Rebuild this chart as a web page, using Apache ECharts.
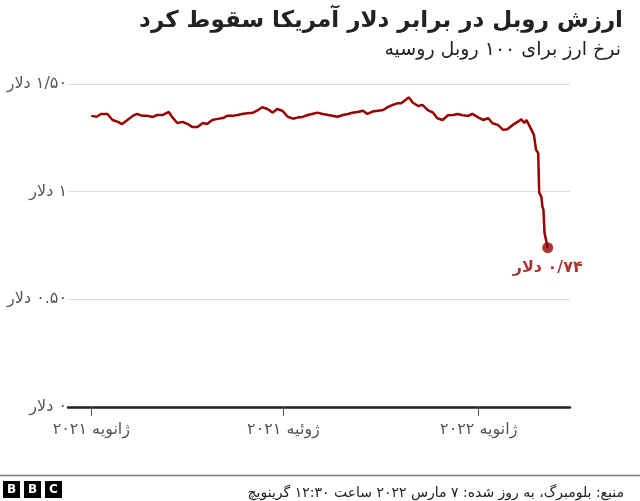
<!DOCTYPE html>
<html>
<head>
<meta charset="utf-8">
<script src="https://cdn.jsdelivr.net/npm/echarts@6/dist/echarts.min.js"></script>
<style>
  html, body { margin: 0; padding: 0; background: #fff; }
  #chart { width: 640px; height: 501px; direction: rtl; }
</style>
</head>
<body>
<div id="chart"></div>
<script>
// ---- data (value of 100 Russian roubles in US dollars) ----
var dates = [
  '2021-01-01','2021-01-06','2021-01-10','2021-01-16','2021-01-21','2021-01-26','2021-01-30',
  '2021-02-04','2021-02-09','2021-02-13','2021-02-18','2021-02-23','2021-02-28',
  '2021-03-04','2021-03-09','2021-03-15','2021-03-18','2021-03-23','2021-03-28',
  '2021-04-02','2021-04-06','2021-04-11','2021-04-16','2021-04-20','2021-04-25','2021-04-30',
  '2021-05-05','2021-05-09','2021-05-14','2021-05-19','2021-05-23','2021-05-28',
  '2021-06-02','2021-06-07','2021-06-11','2021-06-16','2021-06-21','2021-06-25','2021-06-30',
  '2021-07-05','2021-07-10','2021-07-14','2021-07-19','2021-07-24','2021-07-28',
  '2021-08-02','2021-08-07','2021-08-12','2021-08-16','2021-08-21','2021-08-26','2021-08-31',
  '2021-09-04','2021-09-09','2021-09-14','2021-09-18','2021-09-23','2021-09-28',
  '2021-10-03','2021-10-07','2021-10-12','2021-10-17','2021-10-20','2021-10-24','2021-10-27','2021-10-31',
  '2021-11-05','2021-11-09','2021-11-14','2021-11-19','2021-11-23','2021-11-28',
  '2021-12-03','2021-12-08','2021-12-12','2021-12-17','2021-12-22','2021-12-26','2021-12-31',
  '2022-01-05','2022-01-10','2022-01-14','2022-01-19','2022-01-24','2022-01-28',
  '2022-02-02','2022-02-07','2022-02-10','2022-02-13','2022-02-15','2022-02-19','2022-02-22',
  '2022-02-24','2022-02-26','2022-02-27','2022-03-01','2022-03-02','2022-03-03','2022-03-04','2022-03-07'
];
var values = [
  1.352,1.348,1.361,1.361,1.333,1.324,1.314,
  1.333,1.352,1.361,1.352,1.352,1.347,
  1.356,1.356,1.370,1.347,1.319,1.324,
  1.314,1.300,1.300,1.319,1.314,1.333,1.338,
  1.342,1.352,1.352,1.356,1.361,1.364,
  1.366,1.379,1.392,1.384,1.367,1.384,1.376,
  1.348,1.339,1.344,1.347,1.356,1.361,
  1.367,1.361,1.356,1.353,1.348,1.356,1.361,
  1.367,1.370,1.376,1.361,1.372,1.376,
  1.379,1.392,1.403,1.411,1.411,1.426,1.438,1.413,
  1.398,1.403,1.379,1.367,1.341,1.333,
  1.355,1.356,1.361,1.355,1.352,1.361,1.346,
  1.333,1.341,1.318,1.310,1.287,1.290,
  1.310,1.325,1.336,1.319,1.333,1.294,1.263,
  1.194,1.180,0.994,0.977,0.930,0.915,0.808,0.740
];
var lastLabel = '۰/۷۴ دلار';

// ---- axes ----
var xMin = '2020-12-10';
var xMax = '2022-03-28';
var xTickDates = ['2021-01-01', '2021-07-01', '2022-01-01'];
var xTickLabels = ['ژانویه ۲۰۲۱', 'ژوئیه ۲۰۲۱', 'ژانویه ۲۰۲۲'];
var yTickValues = [0, 0.5, 1, 1.5];
var yTickLabels = ['۰ دلار', '۰.۵۰ دلار', '۱ دلار', '۱/۵۰ دلار'];

// ---- text ----
var titleText = 'ارزش روبل در برابر دلار آمریکا سقوط کرد';
var subtitleText = 'نرخ ارز برای ۱۰۰ روبل روسیه';
var sourceText = 'منبع: بلومبرگ، به روز شده: ۷ مارس ۲۰۲۲ ساعت ۱۲:۳۰ گرینویچ';

var FONT = '"DejaVu Sans", sans-serif';
var RED = '#990000';

var parse = function (s) { return echarts.number.parseDate(s).getTime(); };
var xTickTimes = xTickDates.map(parse);
var lineData = dates.map(function (d, i) { return [parse(d), values[i]]; });
var lastPoint = lineData[lineData.length - 1];

var chart = echarts.init(document.getElementById('chart'), null, { renderer: 'canvas' });

function bbcBox(x, letter) {
  return {
    type: 'group', left: x, top: 481,
    children: [
      { type: 'rect', shape: { x: 0, y: 0, width: 17, height: 17 }, style: { fill: '#000' } },
      { type: 'text', style: { x: 8.5, y: 9, text: letter, fill: '#fff', font: 'bold 12px ' + FONT, align: 'center', verticalAlign: 'middle' } }
    ]
  };
}

chart.setOption({
  animation: false,
  backgroundColor: '#fff',
  title: [
    { text: titleText, right: 12, top: 5, textStyle: { fontFamily: FONT, fontSize: 23, fontWeight: 'bold', color: '#222' } },
    { text: subtitleText, right: 14, top: 36, textStyle: { fontFamily: FONT, fontSize: 19, fontWeight: 'normal', color: '#222' } },
    { text: sourceText, right: 11, top: 481, textStyle: { fontFamily: FONT, fontSize: 14, fontWeight: 'normal', color: '#222' } }
  ],
  grid: { left: 68, right: 70, top: 84, bottom: 94, containLabel: false },
  xAxis: {
    type: 'value',
    min: parse(xMin),
    max: parse(xMax),
    axisLine: { show: true, onZero: false, lineStyle: { color: '#222', width: 2.5 } },
    axisTick: { show: true, customValues: xTickTimes, length: 9, lineStyle: { color: '#555', width: 1 } },
    axisLabel: {
      customValues: xTickTimes,
      margin: 15,
      fontFamily: FONT, fontSize: 16, color: '#555',
      formatter: function (v) {
        var i = xTickTimes.indexOf(v);
        return i >= 0 ? xTickLabels[i] : '';
      }
    },
    splitLine: { show: false }
  },
  yAxis: {
    type: 'value',
    min: 0, max: 1.5, interval: 0.5,
    axisLine: { show: false },
    axisTick: { show: false },
    axisLabel: {
      margin: 1,
      fontFamily: FONT, fontSize: 16, color: '#555',
      formatter: function (v) {
        var i = yTickValues.indexOf(Math.round(v * 100) / 100);
        return i >= 0 ? yTickLabels[i] : '';
      }
    },
    splitLine: { show: true, lineStyle: { color: '#dcdcdc', width: 1 } }
  },
  series: [
    {
      type: 'line',
      data: lineData,
      showSymbol: false,
      symbol: 'none',
      lineStyle: { color: RED, width: 2.5 },
      z: 3
    },
    {
      type: 'scatter',
      data: [lastPoint],
      symbolSize: 11,
      itemStyle: { color: RED },
      label: {
        show: true, position: 'bottom', distance: 7,
        formatter: function () { return lastLabel; },
        fontFamily: FONT, fontSize: 16, fontWeight: 'bold', color: RED
      },
      z: 4
    }
  ],
  graphic: [
    { type: 'line', shape: { x1: 0, y1: 475.5, x2: 640, y2: 475.5 }, style: { stroke: '#777', lineWidth: 1.5 } },
    bbcBox(3, 'B'), bbcBox(24, 'B'), bbcBox(45, 'C')
  ]
});
</script>
</body>
</html>
